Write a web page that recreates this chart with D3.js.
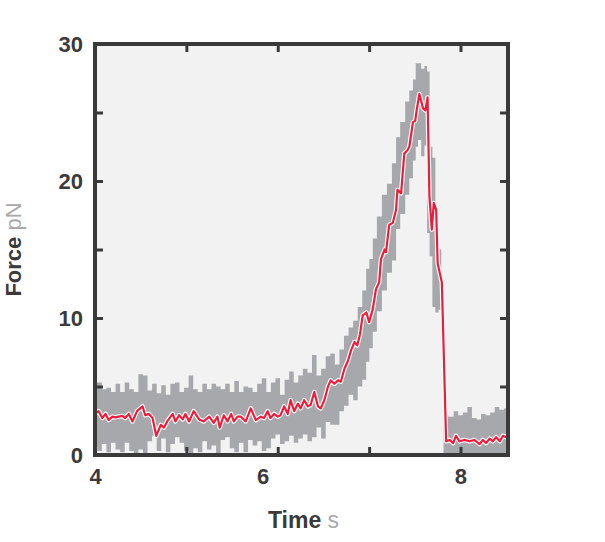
<!DOCTYPE html>
<html><head><meta charset="utf-8">
<script src="https://cdn.jsdelivr.net/npm/d3@7"></script>
<style>body{margin:0;background:#fff} svg{display:block}</style>
</head><body><svg id="c" width="605" height="542"></svg>
<script>
// mean force trace (red)
const redTime = [4.00,4.04,4.08,4.115,4.15,4.19,4.22,4.26,4.30,4.33,4.37,4.41,4.46,4.52,4.55,4.59,4.63,4.67,4.72,4.755,4.79,4.85,4.88,4.92,4.96,4.99,5.03,5.08,5.14,5.19,5.25,5.30,5.34,5.365,5.41,5.45,5.49,5.52,5.56,5.595,5.65,5.705,5.76,5.815,5.85,5.89,5.92,5.96,6.00,6.03,6.07,6.11,6.14,6.18,6.22,6.25,6.29,6.33,6.36,6.40,6.44,6.47,6.51,6.55,6.58,6.62,6.66,6.69,6.73,6.77,6.80,6.84,6.87,6.90,6.93,6.97,7.00,7.04,7.075,7.11,7.13,7.17,7.185,7.22,7.26,7.295,7.31,7.35,7.385,7.42,7.44,7.48,7.505,7.52,7.55,7.59,7.615,7.64,7.66,7.686,7.708,7.734,7.75,7.796,7.843,7.88,7.92,7.95,7.99,8.04,8.10,8.15,8.21,8.245,8.28,8.32,8.355,8.39,8.43,8.465,8.50,8.52];
const redForce = [3.0,3.2,2.7,3.0,2.55,2.8,2.75,2.8,2.85,2.7,3.0,2.45,3.2,3.55,2.9,3.0,2.7,1.4,2.2,2.0,2.45,3.0,2.45,2.9,2.6,3.0,2.45,3.2,2.6,2.45,2.8,2.35,2.8,2.0,2.9,2.45,3.0,2.45,2.8,2.8,2.45,3.4,2.55,2.8,2.7,3.2,2.7,3.0,2.8,2.9,3.55,3.0,4.0,3.2,3.75,3.4,4.0,3.55,3.65,4.6,3.55,3.4,4.0,5.0,5.45,5.2,5.45,5.35,6.3,6.9,7.6,8.25,8.0,8.8,10.2,10.4,9.7,10.65,12.1,12.6,14.3,15.0,14.8,16.8,16.95,17.9,19.35,19.1,22.0,22.25,22.5,24.3,24.4,25.15,26.35,25.3,25.15,26.1,18.9,16.45,18.4,17.9,14.0,12.6,1.0,1.1,0.87,1.4,1.0,1.1,1.0,1.1,0.8,1.1,0.87,1.2,1.0,1.3,1.0,1.4,1.3,1.5];

// raw trace envelope (gray)
const grayTime = [4.00,4.05,4.10,4.15,4.20,4.25,4.30,4.35,4.40,4.45,4.50,4.55,4.60,4.65,4.70,4.75,4.80,4.85,4.90,4.95,5.00,5.05,5.10,5.15,5.20,5.25,5.30,5.35,5.40,5.45,5.50,5.55,5.60,5.65,5.70,5.75,5.80,5.85,5.90,5.95,6.00,6.05,6.10,6.15,6.20,6.25,6.30,6.35,6.40,6.45,6.50,6.55,6.60,6.65,6.70,6.75,6.80,6.85,6.90,6.95,6.985,7.02,7.06,7.11,7.17,7.22,7.28,7.31,7.37,7.42,7.46,7.50,7.52,7.55,7.59,7.62,7.65,7.675,7.71,7.74,7.78,7.80,7.83,7.90,7.95,8.00,8.05,8.10,8.15,8.20,8.25,8.30,8.35,8.40,8.45,8.50,8.53];
const grayHigh = [5.3,5.3,4.8,4.9,4.6,5.2,4.6,5.3,4.8,4.6,5.9,5.8,4.7,5.2,4.5,5.1,4.4,5.2,5.3,4.6,4.9,5.8,4.8,4.6,5.2,4.8,5.2,5.0,4.8,5.2,4.6,5.4,4.6,5.0,4.9,4.6,5.2,5.6,4.6,5.3,5.6,4.4,5.5,6.1,5.3,5.8,6.3,6.0,7.3,5.8,6.3,7.2,7.4,6.6,7.7,8.7,9.3,9.8,10.8,12.0,13.6,14.3,15.8,17.4,19.0,19.8,21.3,23.2,24.3,25.8,26.6,27.4,28.6,28.6,28.2,28.4,28.0,22.5,21.7,16.2,15.0,0,3.0,2.8,3.2,2.9,3.1,3.5,2.7,2.6,3.0,2.9,3.1,3.5,3.3,3.4,3.4];
const grayLow = [0.6,0.3,0.8,0.2,0.9,0.4,0.2,0.9,0.3,0.0,0.4,0.0,1.0,1.4,0.3,1.2,0.2,0.8,1.3,0.9,0.3,0.0,0.5,0.2,1.0,0.4,0.7,0.1,1.1,1.3,0.5,0.2,0.9,0.2,1.1,0.7,1.0,0.3,0.5,1.2,1.5,0.8,1.0,1.4,0.9,1.2,1.5,1.0,1.3,2.0,1.2,2.4,2.2,2.2,3.2,3.6,4.4,4.0,5.0,5.5,6.8,7.8,9.0,10.5,12.0,13.3,14.2,16.5,17.6,19.0,20.2,21.5,22.5,23.0,21.8,22.6,16.2,14.5,10.8,10.4,10.6,0,0,0,0,0,0,0,0,0,0,0,0,0,0,0,0];

const xTicks = [5,6,7,8];
const xLabels = [4,6,8];
const yTicks = [5,10,15,20,25];
const yLabels = [0,10,20,30];

const L = 95, R = 508, T = 44, B = 455;
const x = d3.scaleLinear().domain([4, 8.52]).range([L, R]);
const y = d3.scaleLinear().domain([0, 30]).range([B, T]);
const ink = "#3a3a3a";
const svg = d3.select("#c");

svg.append("rect").attr("x", L).attr("y", T).attr("width", R - L).attr("height", B - T).attr("fill", "#f2f2f2");
svg.append("clipPath").attr("id", "clip").append("rect").attr("x", L).attr("y", T).attr("width", R - L).attr("height", B - T);

const g = svg.append("g").attr("clip-path", "url(#clip)");
const grayData = grayTime.map((t, i) => ({t, hi: grayHigh[i], lo: grayLow[i]}));
g.append("path").datum(grayData)
  .attr("fill", "#a7a8ab")
  .attr("d", d3.area().curve(d3.curveStep).x(d => x(d.t)).y0(d => y(d.lo)).y1(d => y(d.hi)));

const redData = redTime.map((t, i) => ({t, f: redForce[i]}));
const line = d3.line().x(d => x(d.t)).y(d => y(d.f));
g.append("path").datum(redData).attr("fill", "none").attr("stroke", "#ffffff").attr("stroke-width", 4.5).attr("stroke-linejoin", "round").attr("d", line);
g.append("path").datum(redData).attr("fill", "none").attr("stroke", "#ec1c3a").attr("stroke-width", 2.2).attr("stroke-linejoin", "round").attr("d", line);

// ticks (inside)
function tickAxis(axis, tx, ty) {
  const a = svg.append("g").attr("transform", `translate(${tx},${ty})`).call(axis);
  a.select(".domain").remove();
  a.selectAll("line").attr("stroke", ink).attr("stroke-width", 3);
  a.selectAll("text").remove();
}
tickAxis(d3.axisBottom(x).tickValues(xTicks).tickSize(-8), 0, B);
tickAxis(d3.axisTop(x).tickValues(xTicks).tickSize(-8), 0, T);
tickAxis(d3.axisLeft(y).tickValues(yTicks).tickSize(-8), L, 0);
tickAxis(d3.axisRight(y).tickValues(yTicks).tickSize(-8), R, 0);

svg.append("rect").attr("x", L).attr("y", T).attr("width", R - L).attr("height", B - T)
  .attr("fill", "none").attr("stroke", ink).attr("stroke-width", 4);

const font = "'Liberation Sans', Arial, sans-serif";
const xl = svg.append("g").attr("transform", `translate(0,${B})`)
  .call(d3.axisBottom(x).tickValues(xLabels).tickSize(0).tickPadding(13).tickFormat(d3.format("d")));
xl.select(".domain").remove();
xl.selectAll("text").attr("font-family", font).attr("font-weight", "bold").attr("font-size", 22).attr("fill", ink)
  .attr("dx", d => d === 6 ? -15 : 0);

const yl = svg.append("g").attr("transform", `translate(${L},0)`)
  .call(d3.axisLeft(y).tickValues(yLabels).tickSize(0).tickPadding(12).tickFormat(d3.format("d")));
yl.select(".domain").remove();
yl.selectAll("text").attr("font-family", font).attr("font-weight", "bold").attr("font-size", 22).attr("fill", ink);

const xt = svg.append("text").attr("x", (L + R) / 2 + 2).attr("y", 528).attr("text-anchor", "middle")
  .attr("font-family", font).attr("font-size", 23);
xt.append("tspan").attr("font-weight", "bold").attr("fill", ink).text("Time");
xt.append("tspan").attr("fill", "#a9a9a9").text(" s");

const yt = svg.append("text").attr("transform", `translate(21,${(T + B) / 2}) rotate(-90)`).attr("text-anchor", "middle")
  .attr("font-family", font).attr("font-size", 22);
yt.append("tspan").attr("font-weight", "bold").attr("fill", ink).text("Force");
yt.append("tspan").attr("fill", "#a9a9a9").text(" pN");
</script>
</body></html>
